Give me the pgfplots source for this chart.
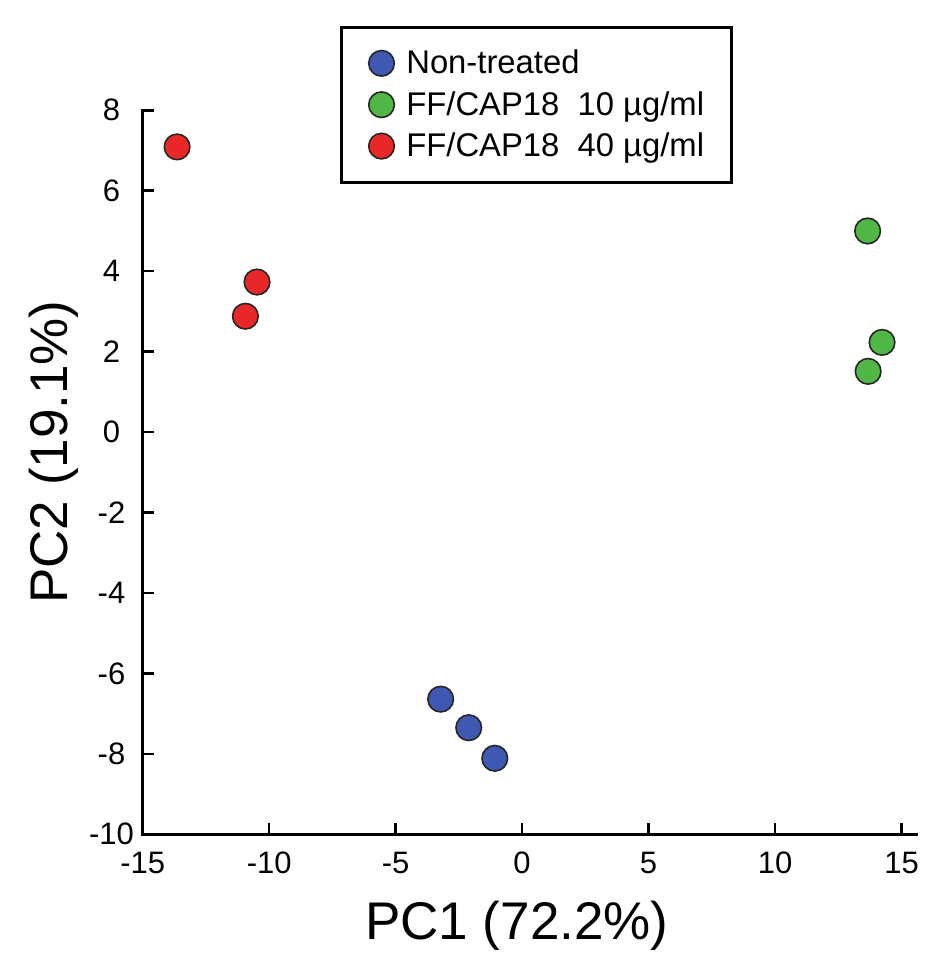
\documentclass[border=0pt]{standalone}
\usepackage{fontspec}
\setmainfont{Liberation Sans}
\usepackage{pgfplots}
\pgfplotsset{compat=1.18}
\definecolor{cblue}{RGB}{62,88,180}
\definecolor{cgreen}{RGB}{80,182,70}
\definecolor{cred}{RGB}{232,40,40}
\begin{document}
\begin{tikzpicture}
\useasboundingbox (-71.35pt,-70.85pt) rectangle (401.15pt,417.15pt);
\begin{axis}[
  scale only axis,
  width=387pt, height=362pt,
  xmin=-15, xmax=15.6, ymin=-10, ymax=8,
  axis x line=bottom, axis y line=left,
  axis line style={-, line width=1.7pt, line cap=rect},
  xtick={-15,-10,-5,0,5,10,15},
  ytick={-10,-8,-6,-4,-2,0,2,4,6,8},
  tick align=inside,
  major tick length=5.7pt,
  tick style={line width=1.3pt, black},
  /pgf/number format/assume math mode=true,
  ticklabel style={font=\fontsize{15.5}{18}\selectfont},
  yticklabel style={anchor=center, xshift=-15.6pt},
  xticklabel style={anchor=center, yshift=-14.35pt},
  xlabel={PC1 (72.2\%)},
  ylabel={PC2 (19.1\%)},
  label style={font=\fontsize{26.5}{30}\selectfont},
  xlabel style={at={(axis description cs:0.4834,-0.127)}, anchor=center},
  ylabel style={at={(axis description cs:-0.1146,0.528)}, anchor=center},
  legend image code/.code={\draw[#1] plot coordinates {(0pt,0pt)};},
  legend cell align=left,
  legend style={at={(axis description cs:0.2552,1.1167)}, anchor=north west,
    draw=black, line width=1.5pt, inner xsep=13.5pt, inner ysep=11.6pt,
    font=\fontsize{16.4}{19}\selectfont, row sep=7.9pt, column sep=6pt,
    nodes={inner sep=0pt, text height=11.5pt, text depth=1pt}},
  clip=false,
]
\addplot[only marks, mark=*, mark size=6.4pt, mark options={fill=cblue, draw=black!85, line width=0.8pt}]
  coordinates {(-3.22,-6.64) (-2.11,-7.35) (-1.08,-8.11)};
\addlegendentry{Non-treated}
\addplot[only marks, mark=*, mark size=6.4pt, mark options={fill=cgreen, draw=black!85, line width=0.8pt}]
  coordinates {(13.66,5.00) (14.23,2.23) (13.68,1.51)};
\addlegendentry{FF/CAP18\ \ 10 µg/ml}
\addplot[only marks, mark=*, mark size=6.4pt, mark options={fill=cred, draw=black!85, line width=0.8pt}]
  coordinates {(-13.64,7.09) (-10.48,3.73) (-10.94,2.88)};
\addlegendentry{FF/CAP18\ \ 40 µg/ml}
\end{axis}
\end{tikzpicture}
\end{document}
